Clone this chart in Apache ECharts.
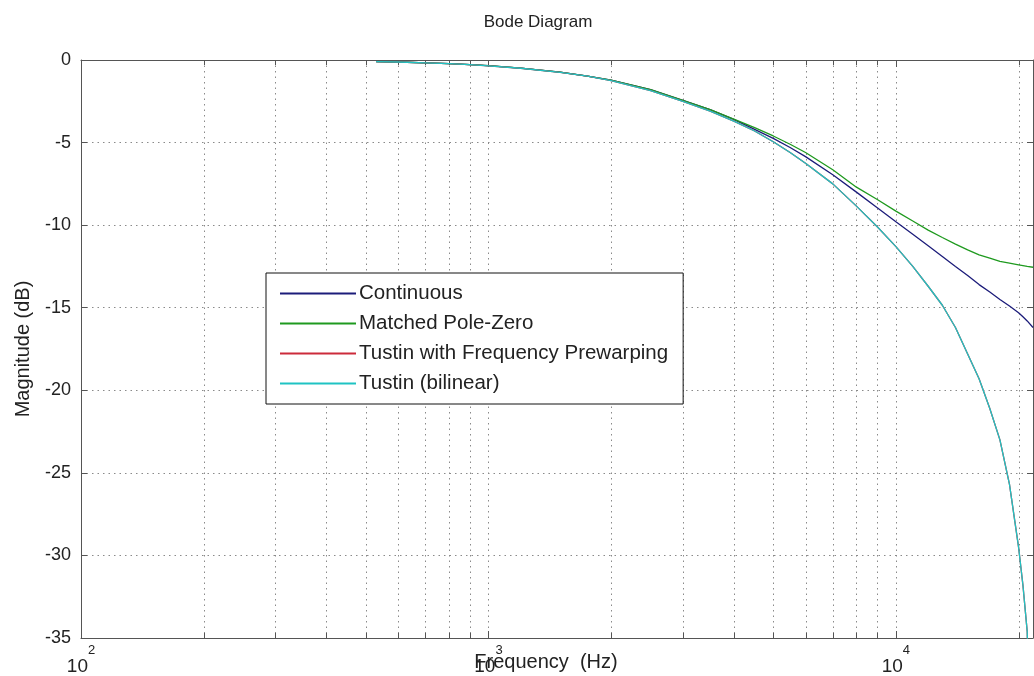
<!DOCTYPE html>
<html>
<head>
<meta charset="utf-8">
<title>Bode Diagram</title>
<script src="https://cdn.jsdelivr.net/npm/echarts@6/dist/echarts.min.js"></script>
<style>
  html, body { margin: 0; padding: 0; background: #fff; }
  #chart { width: 1034px; height: 676px; }
</style>
</head>
<body>
<div id="chart"></div>
<script>
// Frequency samples (Hz) shared by all responses
const freqs = [530, 600, 700, 800, 900, 1000, 1200, 1500, 1750, 2000, 2500, 3000, 3500, 4000, 4500,
  5000, 5500, 6000, 7000, 8000, 9000, 10000, 11000, 12000, 13000, 14000, 15000, 16000, 17000,
  18000, 19000, 20000, 20500, 21000, 21700];

// Magnitude (dB) of each response at the frequencies above
const continuous = [-0.1, -0.12, -0.17, -0.22, -0.28, -0.34, -0.49, -0.73, -0.97, -1.22, -1.8, -2.45, -3.0, -3.6, -4.2,
  -4.75, -5.3, -5.85, -6.95, -8.0, -8.95, -9.8, -10.55, -11.25, -11.9, -12.5, -13.05, -13.6, -14.05,
  -14.5, -14.9, -15.3, -15.55, -15.8, -16.2];
const matchedPoleZero = [-0.1, -0.12, -0.17, -0.22, -0.28, -0.34, -0.49, -0.73, -0.97, -1.22, -1.8, -2.45, -3.0, -3.58, -4.1,
  -4.6, -5.1, -5.6, -6.65, -7.7, -8.45, -9.15, -9.75, -10.3, -10.75, -11.15, -11.5, -11.8, -12.0,
  -12.2, -12.3, -12.4, -12.45, -12.5, -12.55];
const tustinPrewarp = [-0.1, -0.12, -0.17, -0.22, -0.28, -0.35, -0.5, -0.75, -0.98, -1.25, -1.85, -2.5, -3.1, -3.7, -4.3,
  -4.95, -5.6, -6.25, -7.5, -8.85, -10.1, -11.3, -12.5, -13.7, -14.85, -16.2, -17.8, -19.3, -21.1,
  -23.0, -25.7, -29.5, -31.8, -34.6, -48];
const tustinBilinear = [-0.1, -0.12, -0.17, -0.22, -0.28, -0.35, -0.5, -0.75, -0.98, -1.25, -1.85, -2.5, -3.1, -3.7, -4.3,
  -4.95, -5.6, -6.25, -7.5, -8.85, -10.1, -11.3, -12.5, -13.7, -14.85, -16.2, -17.8, -19.3, -21.1,
  -23.0, -25.7, -29.5, -31.8, -34.6, -48];

const seriesNames = ['Continuous', 'Matched Pole-Zero', 'Tustin with Frequency Prewarping', 'Tustin (bilinear)'];
const seriesColors = ['#1c1c7a', '#1f9a1f', '#cc2b3b', '#1fc3c3'];
const seriesValues = [continuous, matchedPoleZero, tustinPrewarp, tustinBilinear];

// Axis ranges and log-decade minor grid positions
const xMin = 100, xMax = 21700;
const yMin = -35, yMax = 0, yStep = 5;
const minorFreqs = [200, 300, 400, 500, 600, 700, 800, 900,
  2000, 3000, 4000, 5000, 6000, 7000, 8000, 9000, 20000];

const FONT = "'Liberation Sans', Arial, sans-serif";
const TEXT = '#222';
const FRAME = '#555';
const GRID = '#8a8a8a';

const chart = echarts.init(document.getElementById('chart'), null, { renderer: 'canvas' });

function pairs(vals) {
  return freqs.map((f, i) => [f, vals[i]]);
}

const lineSeries = seriesNames.map((name, i) => ({
  name: name,
  type: 'line',
  data: pairs(seriesValues[i]),
  symbol: 'none',
  smooth: false,
  clip: true,
  z: 3 + i,
  lineStyle: { color: seriesColors[i], width: 1.3 },
  itemStyle: { color: seriesColors[i] }
}));

// Dotted minor grid lines with short ticks at the top and bottom frame
const minorGrid = {
  type: 'custom',
  silent: true,
  z: 1,
  data: minorFreqs.map(f => [f]),
  renderItem: function (params, api) {
    const f = api.value(0);
    const top = api.coord([f, yMax]);
    const bot = api.coord([f, yMin]);
    const x = Math.round(top[0]) + 0.5;
    return {
      type: 'group',
      children: [
        { type: 'line', shape: { x1: x, y1: top[1], x2: x, y2: bot[1] },
          style: { stroke: GRID, lineWidth: 1, lineDash: [1.5, 4] } },
        { type: 'line', shape: { x1: x, y1: bot[1], x2: x, y2: bot[1] - 5 },
          style: { stroke: FRAME, lineWidth: 1 } },
        { type: 'line', shape: { x1: x, y1: top[1], x2: x, y2: top[1] + 5 },
          style: { stroke: FRAME, lineWidth: 1 } }
      ]
    };
  }
};

function decadeLabel(value) {
  const e = Math.log10(value);
  const r = Math.round(e);
  if (Math.abs(e - r) > 1e-6) return '';
  return '{b|10}{e|' + r + '}';
}

const option = {
  animation: false,
  backgroundColor: '#fff',
  textStyle: { fontFamily: FONT },
  title: {
    text: 'Bode Diagram',
    left: 533,
    top: 9,
    textAlign: 'center',
    textStyle: { fontFamily: FONT, fontSize: 17, fontWeight: 'normal', color: TEXT }
  },
  legend: {
    data: seriesNames,
    orient: 'vertical',
    left: 266,
    top: 273,
    padding: [10, 15, 10, 14],
    itemGap: 9,
    itemWidth: 76,
    itemHeight: 2,
    icon: 'rect',
    backgroundColor: '#fff',
    borderColor: '#111',
    borderWidth: 1,
    borderRadius: 0,
    z: 20,
    textStyle: { fontFamily: FONT, fontSize: 20.5, color: TEXT, padding: [0, 0, 0, -2] }
  },
  grid: { left: 81, right: 1, top: 60, bottom: 38, containLabel: false, outerBoundsMode: 'none' },
  xAxis: [
    {
      type: 'log', logBase: 10, min: xMin, max: xMax,
      name: 'Frequency  (Hz)', nameLocation: 'middle', nameGap: 14, nameMoveOverlap: false,
      nameTextStyle: { fontFamily: FONT, fontSize: 20, color: TEXT, padding: [0, 22, 0, 0] },
      axisLine: { show: true, onZero: false, lineStyle: { color: FRAME, width: 1 } },
      axisTick: { show: true, inside: true, length: 7, lineStyle: { color: FRAME } },
      splitLine: { show: true, lineStyle: { color: GRID, type: [1.5, 4] } },
      axisLabel: {
        margin: 6, showMaxLabel: false, formatter: decadeLabel,
        rich: {
          b: { fontFamily: FONT, fontSize: 19, color: TEXT, padding: [13, 0, 0, 0], verticalAlign: 'bottom' },
          e: { fontFamily: FONT, fontSize: 13, color: TEXT, verticalAlign: 'top' }
        }
      }
    },
    {
      type: 'log', logBase: 10, min: xMin, max: xMax, position: 'top',
      axisLine: { show: true, onZero: false, lineStyle: { color: FRAME, width: 1 } },
      axisTick: { show: true, inside: true, length: 7, lineStyle: { color: FRAME } },
      axisLabel: { show: false },
      splitLine: { show: false }
    }
  ],
  yAxis: [
    {
      type: 'value', min: yMin, max: yMax, interval: yStep,
      name: 'Magnitude (dB)', nameLocation: 'middle', nameGap: 48, nameRotate: 90, nameMoveOverlap: false,
      nameTextStyle: { fontFamily: FONT, fontSize: 20, color: TEXT },
      axisLine: { show: true, onZero: false, lineStyle: { color: FRAME, width: 1 } },
      axisTick: { show: true, inside: true, length: 6, lineStyle: { color: FRAME } },
      splitLine: { show: true, lineStyle: { color: GRID, type: [1.5, 4] } },
      axisLabel: { margin: 10, fontFamily: FONT, fontSize: 18, color: TEXT }
    },
    {
      type: 'value', min: yMin, max: yMax, interval: yStep, position: 'right',
      axisLine: { show: true, onZero: false, lineStyle: { color: FRAME, width: 1 } },
      axisTick: { show: true, inside: true, length: 6, lineStyle: { color: FRAME } },
      axisLabel: { show: false },
      splitLine: { show: false }
    }
  ],
  series: [minorGrid].concat(lineSeries)
};

chart.setOption(option);
</script>
</body>
</html>
